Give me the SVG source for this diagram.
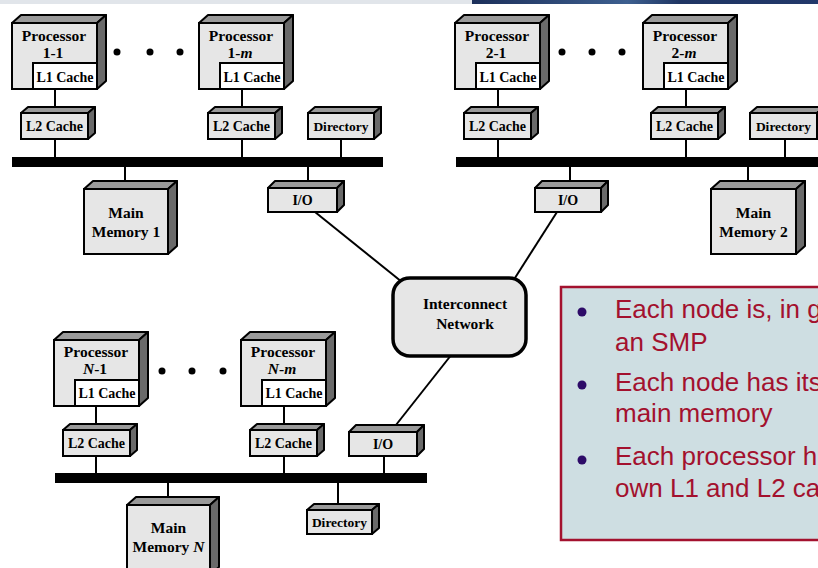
<svg xmlns="http://www.w3.org/2000/svg" width="818" height="568" viewBox="0 0 818 568">
  <defs>
    <linearGradient id="band" x1="0" y1="0" x2="1" y2="0">
      <stop offset="0" stop-color="#1c2f5a"/>
      <stop offset="0.45" stop-color="#3d5f8f"/>
      <stop offset="0.6" stop-color="#1f3563"/>
      <stop offset="1" stop-color="#22386a"/>
    </linearGradient>
    <style>
      .front { fill: #e6e6e6; stroke: #000; stroke-width: 2; }
      .inner { fill: #ffffff; stroke: #000; stroke-width: 2; }
      .top { fill: #9a9a9a; stroke: #000; stroke-width: 2; stroke-linejoin: round; }
      .side { fill: #6a6a6a; stroke: #000; stroke-width: 2; stroke-linejoin: round; }
      .wire { stroke: #000; stroke-width: 2; fill: none; }
      .bus { fill: #000; }
      .dot { fill: #000; }
      .lbl { font-family: "Liberation Serif", "Times New Roman", serif; font-weight: bold; font-size: 15.5px; fill: #000; text-anchor: middle; }
      .sm { font-size: 14px; }
      .xs { font-size: 13.5px; }
      .net { fill: #e6e6e6; stroke: #000; stroke-width: 3.5; }
      .note { fill: #cedee2; stroke: #a3112e; stroke-width: 2.5; }
      .bullet { fill: #2d0b68; }
      .say { font-family: "Liberation Sans", Arial, sans-serif; font-size: 26px; fill: #a3112e; }
    </style>
  </defs>

  <rect width="818" height="568" fill="#ffffff"/>
  <!-- title strip -->
  <rect x="0" y="0" width="472" height="4" fill="#e1e5ea"/>
  <rect x="472" y="0" width="346" height="4" fill="url(#band)"/>

  <!-- connectors -->
  <g id="connectors">
    <!-- node 1 -->
    <rect class="bus" x="12" y="157" width="371" height="10"/>
    <line class="wire" x1="55" y1="89" x2="55" y2="110"/>
    <line class="wire" x1="55" y1="139" x2="55" y2="157"/>
    <line class="wire" x1="242" y1="89" x2="242" y2="110"/>
    <line class="wire" x1="242" y1="139" x2="242" y2="157"/>
    <line class="wire" x1="341" y1="139" x2="341" y2="157"/>
    <line class="wire" x1="125" y1="167" x2="125" y2="184"/>
    <line class="wire" x1="308" y1="167" x2="308" y2="184"/>
    <!-- node 2 -->
    <rect class="bus" x="456" y="157" width="362" height="10"/>
    <line class="wire" x1="498" y1="89" x2="498" y2="110"/>
    <line class="wire" x1="498" y1="139" x2="498" y2="157"/>
    <line class="wire" x1="686" y1="89" x2="686" y2="110"/>
    <line class="wire" x1="686" y1="139" x2="686" y2="157"/>
    <line class="wire" x1="785" y1="139" x2="785" y2="157"/>
    <line class="wire" x1="570" y1="167" x2="570" y2="184"/>
    <line class="wire" x1="748" y1="167" x2="748" y2="184"/>
    <!-- node N -->
    <rect class="bus" x="55" y="473" width="372" height="10"/>
    <line class="wire" x1="96" y1="406" x2="96" y2="427"/>
    <line class="wire" x1="96" y1="456" x2="96" y2="473"/>
    <line class="wire" x1="284" y1="406" x2="284" y2="427"/>
    <line class="wire" x1="284" y1="456" x2="284" y2="473"/>
    <line class="wire" x1="384" y1="456" x2="384" y2="473"/>
    <line class="wire" x1="168" y1="483" x2="168" y2="500"/>
    <line class="wire" x1="338" y1="483" x2="338" y2="507"/>
    <!-- links to the interconnect -->
    <line class="wire" x1="315" y1="212" x2="402" y2="282"/>
    <line class="wire" x1="557" y1="212" x2="513" y2="281"/>
    <line class="wire" x1="452" y1="354" x2="392" y2="430"/>
  </g>

  <!-- dots between processors -->
  <g id="ellipsis">
    <circle class="dot" cx="117" cy="52" r="3.5"/>
    <circle class="dot" cx="150" cy="52" r="3.5"/>
    <circle class="dot" cx="180" cy="52" r="3.5"/>
    <circle class="dot" cx="562" cy="52" r="3.5"/>
    <circle class="dot" cx="592" cy="52" r="3.5"/>
    <circle class="dot" cx="622" cy="52" r="3.5"/>
    <circle class="dot" cx="162" cy="371" r="3.5"/>
    <circle class="dot" cx="192" cy="371" r="3.5"/>
    <circle class="dot" cx="223" cy="371" r="3.5"/>
  </g>

  <!-- node 1 -->
  <g id="proc-1-1">
    <polygon class="top" points="12,23 21,15 106,15 97,23"/>
    <polygon class="side" points="97,23 106,15 106,81 97,89"/>
    <rect class="front" x="12" y="23" width="85" height="66"/>
    <rect class="inner" x="33" y="63" width="64" height="26"/>
    <text class="lbl" x="54" y="41">Processor</text>
    <text class="lbl" x="53" y="58">1-1</text>
    <text class="lbl sm" x="65" y="82">L1 Cache</text>
  </g>
  <g id="proc-1-m">
    <polygon class="top" points="199,23 208,15 293,15 284,23"/>
    <polygon class="side" points="284,23 293,15 293,81 284,89"/>
    <rect class="front" x="199" y="23" width="85" height="66"/>
    <rect class="inner" x="220" y="63" width="64" height="26"/>
    <text class="lbl" x="241" y="41">Processor</text>
    <text class="lbl" x="240" y="58">1-<tspan font-style="italic">m</tspan></text>
    <text class="lbl sm" x="252" y="82">L1 Cache</text>
  </g>
  <g id="l2-1-1">
    <polygon class="top" points="21,113 28,107 95,107 88,113"/>
    <polygon class="side" points="88,113 95,107 95,133 88,139"/>
    <rect class="front" x="21" y="113" width="67" height="26"/>
    <text class="lbl sm" x="54.5" y="131">L2 Cache</text>
  </g>
  <g id="l2-1-m">
    <polygon class="top" points="208,113 215,107 282,107 275,113"/>
    <polygon class="side" points="275,113 282,107 282,133 275,139"/>
    <rect class="front" x="208" y="113" width="67" height="26"/>
    <text class="lbl sm" x="241.5" y="131">L2 Cache</text>
  </g>
  <g id="dir-1">
    <polygon class="top" points="308,113 315,107 381,107 374,113"/>
    <polygon class="side" points="374,113 381,107 381,133 374,139"/>
    <rect class="front" x="308" y="113" width="66" height="26"/>
    <text class="lbl xs" x="341" y="131">Directory</text>
  </g>
  <g id="mem-1">
    <polygon class="top" points="84,189 93,181 177,181 168,189"/>
    <polygon class="side" points="168,189 177,181 177,246 168,254"/>
    <rect class="front" x="84" y="189" width="84" height="65"/>
    <text class="lbl" x="126" y="218">Main</text>
    <text class="lbl" x="126" y="237">Memory 1</text>
  </g>
  <g id="io-1">
    <polygon class="top" points="268,188 275,181 344,181 337,188"/>
    <polygon class="side" points="337,188 344,181 344,205 337,212"/>
    <rect class="front" x="268" y="188" width="69" height="24"/>
    <text class="lbl sm" x="302.5" y="205">I/O</text>
  </g>

  <!-- node 2 -->
  <g id="proc-2-1">
    <polygon class="top" points="455,23 464,15 549,15 540,23"/>
    <polygon class="side" points="540,23 549,15 549,81 540,89"/>
    <rect class="front" x="455" y="23" width="85" height="66"/>
    <rect class="inner" x="476" y="63" width="64" height="26"/>
    <text class="lbl" x="497" y="41">Processor</text>
    <text class="lbl" x="496" y="58">2-1</text>
    <text class="lbl sm" x="508" y="82">L1 Cache</text>
  </g>
  <g id="proc-2-m">
    <polygon class="top" points="643,23 652,15 737,15 728,23"/>
    <polygon class="side" points="728,23 737,15 737,81 728,89"/>
    <rect class="front" x="643" y="23" width="85" height="66"/>
    <rect class="inner" x="664" y="63" width="64" height="26"/>
    <text class="lbl" x="685" y="41">Processor</text>
    <text class="lbl" x="684" y="58">2-<tspan font-style="italic">m</tspan></text>
    <text class="lbl sm" x="696" y="82">L1 Cache</text>
  </g>
  <g id="l2-2-1">
    <polygon class="top" points="464,113 471,107 538,107 531,113"/>
    <polygon class="side" points="531,113 538,107 538,133 531,139"/>
    <rect class="front" x="464" y="113" width="67" height="26"/>
    <text class="lbl sm" x="497.5" y="131">L2 Cache</text>
  </g>
  <g id="l2-2-m">
    <polygon class="top" points="651,113 658,107 725,107 718,113"/>
    <polygon class="side" points="718,113 725,107 725,133 718,139"/>
    <rect class="front" x="651" y="113" width="67" height="26"/>
    <text class="lbl sm" x="684.5" y="131">L2 Cache</text>
  </g>
  <g id="dir-2">
    <polygon class="top" points="750,113 757,107 824,107 817,113"/>
    <polygon class="side" points="817,113 824,107 824,133 817,139"/>
    <rect class="front" x="750" y="113" width="67" height="26"/>
    <text class="lbl xs" x="783.5" y="131">Directory</text>
  </g>
  <g id="io-2">
    <polygon class="top" points="535,188 542,181 608,181 601,188"/>
    <polygon class="side" points="601,188 608,181 608,205 601,212"/>
    <rect class="front" x="535" y="188" width="66" height="24"/>
    <text class="lbl sm" x="568" y="205">I/O</text>
  </g>
  <g id="mem-2">
    <polygon class="top" points="711,189 720,181 805,181 796,189"/>
    <polygon class="side" points="796,189 805,181 805,246 796,254"/>
    <rect class="front" x="711" y="189" width="85" height="65"/>
    <text class="lbl" x="753.5" y="218">Main</text>
    <text class="lbl" x="753.5" y="237">Memory 2</text>
  </g>

  <!-- interconnect -->
  <g id="interconnect">
    <rect class="net" x="393" y="278" width="133" height="78" rx="17" ry="17"/>
    <text class="lbl" x="465" y="309">Interconnect</text>
    <text class="lbl" x="465" y="329">Network</text>
  </g>

  <!-- node N -->
  <g id="proc-N-1">
    <polygon class="top" points="54,340 63,332 148,332 139,340"/>
    <polygon class="side" points="139,340 148,332 148,398 139,406"/>
    <rect class="front" x="54" y="340" width="85" height="66"/>
    <rect class="inner" x="75" y="380" width="64" height="26"/>
    <text class="lbl" x="96" y="357">Processor</text>
    <text class="lbl" x="95" y="374"><tspan font-style="italic">N</tspan>-1</text>
    <text class="lbl sm" x="107" y="398">L1 Cache</text>
  </g>
  <g id="proc-N-m">
    <polygon class="top" points="241,340 250,332 335,332 326,340"/>
    <polygon class="side" points="326,340 335,332 335,398 326,406"/>
    <rect class="front" x="241" y="340" width="85" height="66"/>
    <rect class="inner" x="262" y="380" width="64" height="26"/>
    <text class="lbl" x="283" y="357">Processor</text>
    <text class="lbl" x="282" y="374"><tspan font-style="italic">N</tspan>-<tspan font-style="italic">m</tspan></text>
    <text class="lbl sm" x="294" y="398">L1 Cache</text>
  </g>
  <g id="l2-N-1">
    <polygon class="top" points="63,430 70,424 137,424 130,430"/>
    <polygon class="side" points="130,430 137,424 137,450 130,456"/>
    <rect class="front" x="63" y="430" width="67" height="26"/>
    <text class="lbl sm" x="96.5" y="448">L2 Cache</text>
  </g>
  <g id="l2-N-m">
    <polygon class="top" points="250,430 257,424 324,424 317,430"/>
    <polygon class="side" points="317,430 324,424 324,450 317,456"/>
    <rect class="front" x="250" y="430" width="67" height="26"/>
    <text class="lbl sm" x="283.5" y="448">L2 Cache</text>
  </g>
  <g id="io-N">
    <polygon class="top" points="349,432 356,425 424,425 417,432"/>
    <polygon class="side" points="417,432 424,425 424,449 417,456"/>
    <rect class="front" x="349" y="432" width="68" height="24"/>
    <text class="lbl sm" x="383" y="449">I/O</text>
  </g>
  <g id="mem-N">
    <polygon class="top" points="127,505 136,497 219,497 210,505"/>
    <polygon class="side" points="210,505 219,497 219,567 210,575"/>
    <rect class="front" x="127" y="505" width="83" height="70"/>
    <text class="lbl" x="168.5" y="533">Main</text>
    <text class="lbl" x="168.5" y="552">Memory <tspan font-style="italic">N</tspan></text>
  </g>
  <g id="dir-N">
    <polygon class="top" points="307,510 314,504 379,504 372,510"/>
    <polygon class="side" points="372,510 379,504 379,528 372,534"/>
    <rect class="front" x="307" y="510" width="65" height="24"/>
    <text class="lbl xs" x="339.5" y="527">Directory</text>
  </g>

  <!-- notes panel, running off the right edge -->
  <g id="notes">
    <rect class="note" x="561" y="287" width="270" height="253"/>
    <circle class="bullet" cx="582" cy="312" r="4.5"/>
    <circle class="bullet" cx="582" cy="385" r="4.5"/>
    <circle class="bullet" cx="582" cy="460" r="4.5"/>
    <text class="say" x="615" y="318">Each node is, in g</text>
    <text class="say" x="615" y="351">an SMP</text>
    <text class="say" x="615" y="391">Each node has its</text>
    <text class="say" x="615" y="422">main memory</text>
    <text class="say" x="615" y="465">Each processor h</text>
    <text class="say" x="615" y="497">own L1 and L2 ca</text>
  </g>
</svg>
